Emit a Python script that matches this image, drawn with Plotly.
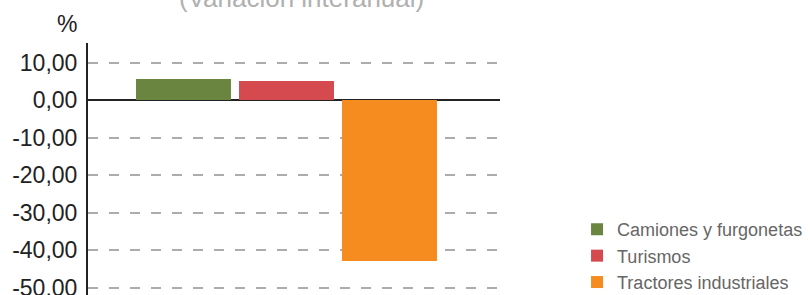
import plotly.graph_objects as go

grupo = [""]
series = ["Camiones y furgonetas", "Turismos", "Tractores industriales"]
valores = [5.6, 5.1, -42.9]
colores = ["#6a8540", "#d44a4e", "#f68b1f"]
tick_vals = [10, 0, -10, -20, -30, -40, -50]
tick_labels = ["10,00", "0,00", "-10,00", "-20,00", "-30,00", "-40,00", "-50,00"]

FONT = "Liberation Sans, Arial, sans-serif"

fig = go.Figure()
for name, v, c in zip(series, valores, colores):
    fig.add_trace(go.Bar(x=grupo, y=[v], name=name, marker=dict(color=c, line=dict(width=0))))

fig.update_layout(
    width=810, height=295,
    margin=dict(l=88, r=310, t=43, b=0, pad=0, autoexpand=False),
    paper_bgcolor="white", plot_bgcolor="white",
    barmode="group", bargap=0.25, bargroupgap=0.078,
    font=dict(family=FONT, size=22, color="#222222"),
    showlegend=True,
    legend=dict(x=1.187, xanchor="left", y=-0.024, yanchor="bottom",
                font=dict(family=FONT, size=18, color="#666666"),
                itemwidth=30, tracegroupgap=0, bgcolor="rgba(0,0,0,0)"),
    xaxis=dict(type="category", range=[-0.4818, 0.5182], showticklabels=False,
               showgrid=False, zeroline=False, showline=False, ticks=""),
    yaxis=dict(range=[-52, 15.2], tickvals=tick_vals, ticktext=tick_labels,
               showgrid=True, gridcolor="#acacac", gridwidth=2, griddash="10px,11px",
               zeroline=True, zerolinecolor="#222222", zerolinewidth=2,
               showline=True, linecolor="#222222", linewidth=2,
               ticks="", ticklabelstandoff=4, ticklabeloverflow="allow",
               tickfont=dict(family=FONT, size=23, color="#222222")),
    annotations=[
        dict(text="(Variación interanual)", xref="paper", yref="paper",
             x=(301 - 88) / 412, y=1.1786, xanchor="center", yanchor="middle",
             showarrow=False, font=dict(family=FONT, size=26, color="#b0b0b0")),
        dict(text="%", xref="paper", yref="paper",
             x=(67 - 88) / 412, y=1.075, xanchor="center", yanchor="middle",
             showarrow=False, font=dict(family=FONT, size=23, color="#222222")),
    ],
)

fig.write_html("out.html", config={"displayModeBar": False},
               post_script="document.body.style.margin='0';document.body.style.overflow='hidden';")
